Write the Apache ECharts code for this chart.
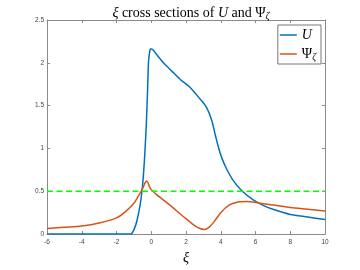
<!DOCTYPE html>
<html>
<head>
<meta charset="utf-8">
<script src="https://cdn.jsdelivr.net/npm/echarts@6/dist/echarts.min.js"></script>
<style>html,body{margin:0;padding:0;background:#fff;}#c{width:360px;height:270px;}</style>
</head>
<body>
<div id="c"></div>
<script>
// Data
const xU   = [-6, -1.17, -1.0, -0.83, -0.64, -0.5, -0.39, -0.29, -0.22, -0.16, -0.1, -0.04, 0.02, 0.3, 0.7, 1.2, 1.7, 2.2, 2.8, 3.18, 3.48, 3.67, 3.86, 4.06, 4.34, 4.72, 5.2, 5.87, 6.5, 7.0, 8.0, 9.0, 10];
const yU   = [0, 0, 0.05, 0.15, 0.34, 0.57, 0.87, 1.25, 1.63, 2.0, 2.12, 2.16, 2.16, 2.1, 2.0, 1.9, 1.8, 1.72, 1.58, 1.48, 1.33, 1.17, 1.02, 0.89, 0.76, 0.625, 0.51, 0.4, 0.33, 0.29, 0.23, 0.2, 0.17];
const xPsi = [-6, -5, -4, -3, -2, -1.5, -1, -0.75, -0.5, -0.35, -0.25, -0.15, -0.05, 0.1, 0.25, 1, 2, 2.5, 2.8, 3.05, 3.3, 3.6, 4, 4.5, 5, 5.5, 6, 7, 8, 9, 10];
const yPsi = [0.065, 0.08, 0.095, 0.13, 0.19, 0.26, 0.36, 0.44, 0.53, 0.6, 0.62, 0.58, 0.53, 0.5, 0.47, 0.35, 0.18, 0.1, 0.065, 0.055, 0.075, 0.14, 0.25, 0.34, 0.375, 0.38, 0.37, 0.34, 0.31, 0.29, 0.27];
const xRef = [-6, 10];
const yRef = [0.5, 0.5];
const xTickRange = [-6, 10, 2];
const yTickRange = [0, 2.5, 0.5];
const nameU = 'U';
const namePsi = 'Ψζ';

const zip = (xs, ys) => xs.map((x, i) => [x, ys[i]]);
const serif = 'Liberation Serif';
const axisCol = '#8a8a8a';
const labelStyle = {color: '#444', fontSize: 6.5, fontFamily: 'Liberation Sans'};

const chart = echarts.init(document.getElementById('c'), null, {renderer: 'canvas'});
chart.setOption({
  animation: false,
  backgroundColor: '#fff',
  title: {
    text: '{i|ξ} cross sections of {i|U} and Ψ{s|ζ}',
    left: 186, textAlign: 'center', top: 0,
    textStyle: {
      fontFamily: serif, fontSize: 14, fontWeight: 'normal', color: '#000',
      rich: {
        i: {fontFamily: serif, fontSize: 14, fontStyle: 'italic', color: '#000'},
        s: {fontFamily: serif, fontSize: 10, fontStyle: 'italic', color: '#000', padding: [6, 0, 0, 0]}
      }
    }
  },
  grid: {left: 47, right: 35, top: 20, bottom: 30},
  legend: {
    data: [nameU, namePsi],
    orient: 'vertical',
    right: 39, top: 25,
    backgroundColor: '#fff',
    borderColor: '#555', borderWidth: 0.8, borderRadius: 0,
    padding: [1, 5, 1, 2],
    itemGap: 1,
    itemWidth: 17, itemHeight: 8,
    icon: 'path://M0,4 L17,4 L17,5.5 L0,5.5 Z',
    formatter: n => n === nameU ? '{i|U}' : '{u|Ψ}{s|ζ}',
    textStyle: {
      lineHeight: 18,
      rich: {
        i: {fontFamily: serif, fontSize: 14, fontStyle: 'italic', color: '#000', lineHeight: 18},
        u: {fontFamily: serif, fontSize: 14, color: '#000', lineHeight: 18},
        s: {fontFamily: serif, fontSize: 9.5, fontStyle: 'italic', color: '#000', padding: [6, 0, 0, 0], lineHeight: 18}
      }
    }
  },
  xAxis: [{
    type: 'value', position: 'bottom',
    min: xTickRange[0], max: xTickRange[1], interval: xTickRange[2],
    name: 'ξ', nameLocation: 'middle', nameGap: 15,
    nameTextStyle: {fontFamily: serif, fontStyle: 'italic', fontSize: 14, color: '#000'},
    axisLine: {show: true, onZero: false, lineStyle: {color: axisCol, width: 1}},
    axisTick: {show: true, inside: true, length: 3, lineStyle: {color: axisCol}},
    axisLabel: Object.assign({margin: 5}, labelStyle),
    splitLine: {show: false}
  }, {
    type: 'value', position: 'top',
    min: xTickRange[0], max: xTickRange[1], interval: xTickRange[2],
    axisLine: {show: true, onZero: false, lineStyle: {color: axisCol, width: 1}},
    axisTick: {show: true, inside: true, length: 3, lineStyle: {color: axisCol}},
    axisLabel: {show: false},
    splitLine: {show: false}
  }],
  yAxis: [{
    type: 'value', position: 'left',
    min: yTickRange[0], max: yTickRange[1], interval: yTickRange[2],
    axisLine: {show: true, onZero: false, lineStyle: {color: axisCol, width: 1}},
    axisTick: {show: true, inside: true, length: 3, lineStyle: {color: axisCol}},
    axisLabel: Object.assign({margin: 3}, labelStyle),
    splitLine: {show: false}
  }, {
    type: 'value', position: 'right',
    min: yTickRange[0], max: yTickRange[1], interval: yTickRange[2],
    axisLine: {show: true, onZero: false, lineStyle: {color: axisCol, width: 1}},
    axisTick: {show: true, inside: true, length: 3, lineStyle: {color: axisCol}},
    axisLabel: {show: false},
    splitLine: {show: false}
  }],
  series: [{
    name: nameU, type: 'line', xAxisIndex: 0, yAxisIndex: 0,
    data: zip(xU, yU), showSymbol: false, smooth: 0.25,
    lineStyle: {color: '#0072BD', width: 1.5}, itemStyle: {color: '#0072BD'}
  }, {
    name: namePsi, type: 'line', xAxisIndex: 0, yAxisIndex: 0,
    data: zip(xPsi, yPsi), showSymbol: false, smooth: 0.3,
    lineStyle: {color: '#D95319', width: 1.5}, itemStyle: {color: '#D95319'}
  }, {
    name: 'ref', type: 'line', xAxisIndex: 0, yAxisIndex: 0,
    data: zip(xRef, yRef), showSymbol: false,
    lineStyle: {color: '#00FF00', width: 1.5, type: [6, 3.5]}, itemStyle: {color: '#00FF00'}
  }]
});
</script>
</body>
</html>
